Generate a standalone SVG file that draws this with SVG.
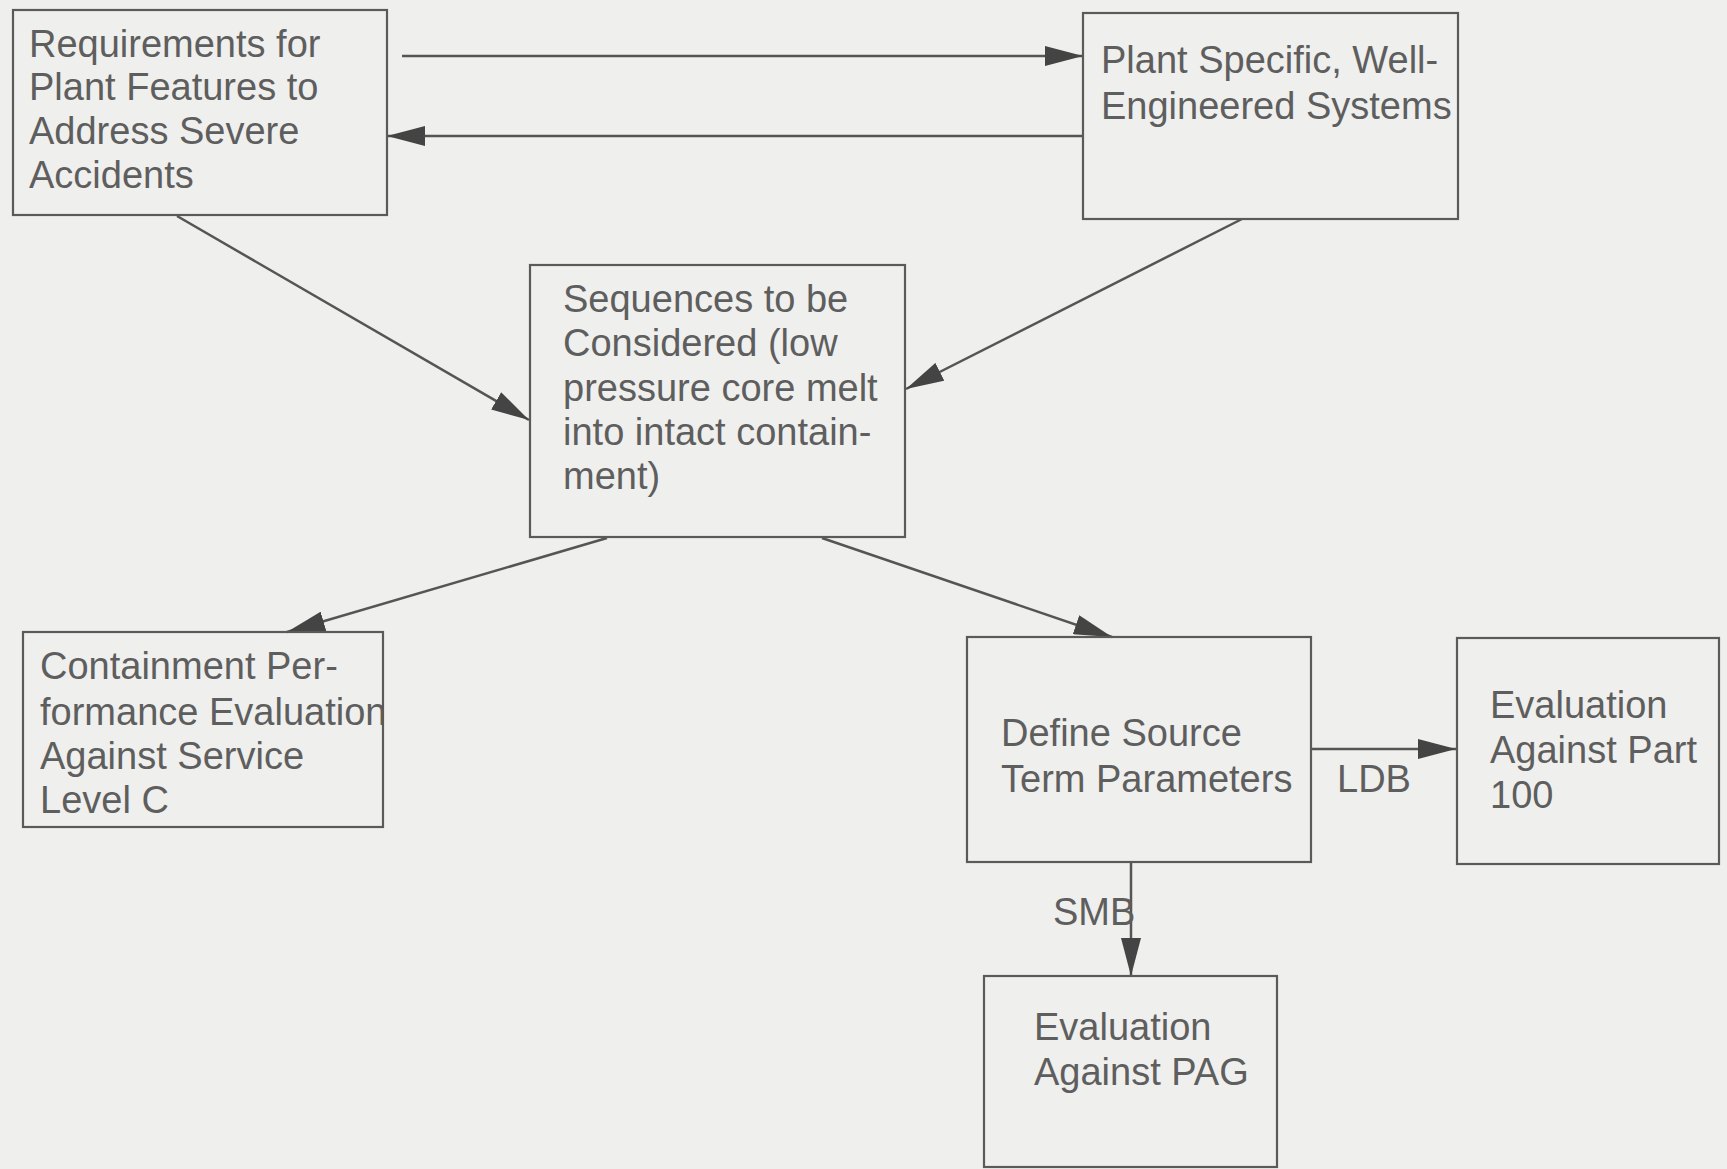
<svg xmlns="http://www.w3.org/2000/svg" width="1727" height="1169" viewBox="0 0 1727 1169">
<style>
.box{fill:none;stroke:#5a5a5a;stroke-width:2.2}
.t{font-family:"Liberation Sans",Arial,sans-serif;font-size:38px;fill:#5e5e5e}
.c{stroke:#555;stroke-width:2.5;fill:none;marker-end:url(#ah)}
</style>
<defs>
<marker id="ah" viewBox="0 0 38 20" refX="38" refY="10" markerWidth="38" markerHeight="20" orient="auto" markerUnits="userSpaceOnUse">
<path d="M0,0 L38,10 L0,20 Z" fill="#444"/>
</marker>
<clipPath id="clip4"><rect x="23" y="632" width="359" height="195"/></clipPath>
</defs>
<rect x="0" y="0" width="1727" height="1169" fill="#efefed"/>
<g id="connectors">
<line class="c" x1="402" y1="56" x2="1083" y2="56"/>
<line class="c" x1="1083" y1="136" x2="387" y2="136"/>
<line class="c" x1="177" y1="216" x2="529" y2="420"/>
<line class="c" x1="1242" y1="219" x2="906" y2="389"/>
<line class="c" x1="607" y1="538" x2="287" y2="632"/>
<line class="c" x1="822" y1="538" x2="1112" y2="637"/>
<line class="c" x1="1311" y1="749" x2="1456" y2="749"/>
<line class="c" x1="1131" y1="862" x2="1131" y2="976"/>
<text class="t" x="1337" y="792">LDB</text>
<text class="t" x="1053" y="925">SMB</text>
</g>
<g id="n1">
<rect class="box" x="13" y="10" width="374" height="205"/>
<text class="t" x="29" y="57">Requirements for</text>
<text class="t" x="29" y="100">Plant Features to</text>
<text class="t" x="29" y="144">Address Severe</text>
<text class="t" x="29" y="188">Accidents</text>
</g>
<g id="n2">
<rect class="box" x="1083" y="13" width="375" height="206"/>
<text class="t" x="1101" y="73">Plant Specific, Well-</text>
<text class="t" x="1101" y="119">Engineered Systems</text>
</g>
<g id="n3">
<rect class="box" x="530" y="265" width="375" height="272"/>
<text class="t" x="563" y="312">Sequences to be</text>
<text class="t" x="563" y="356">Considered (low</text>
<text class="t" x="563" y="401">pressure core melt</text>
<text class="t" x="563" y="445">into intact contain-</text>
<text class="t" x="563" y="489">ment)</text>
</g>
<g id="n4">
<rect class="box" x="23" y="632" width="360" height="195"/>
<g clip-path="url(#clip4)">
<text class="t" x="40" y="679">Containment Per-</text>
<text class="t" x="40" y="725">formance Evaluation</text>
<text class="t" x="40" y="769">Against Service</text>
<text class="t" x="40" y="813">Level C</text>
</g>
</g>
<g id="n5">
<rect class="box" x="967" y="637" width="344" height="225"/>
<text class="t" x="1001" y="746">Define Source</text>
<text class="t" x="1001" y="792">Term Parameters</text>
</g>
<g id="n6">
<rect class="box" x="1457" y="638" width="262" height="226"/>
<text class="t" x="1490" y="718">Evaluation</text>
<text class="t" x="1490" y="763">Against Part</text>
<text class="t" x="1490" y="808">100</text>
</g>
<g id="n7">
<rect class="box" x="984" y="976" width="293" height="191"/>
<text class="t" x="1034" y="1040">Evaluation</text>
<text class="t" x="1034" y="1085">Against PAG</text>
</g>
</svg>
